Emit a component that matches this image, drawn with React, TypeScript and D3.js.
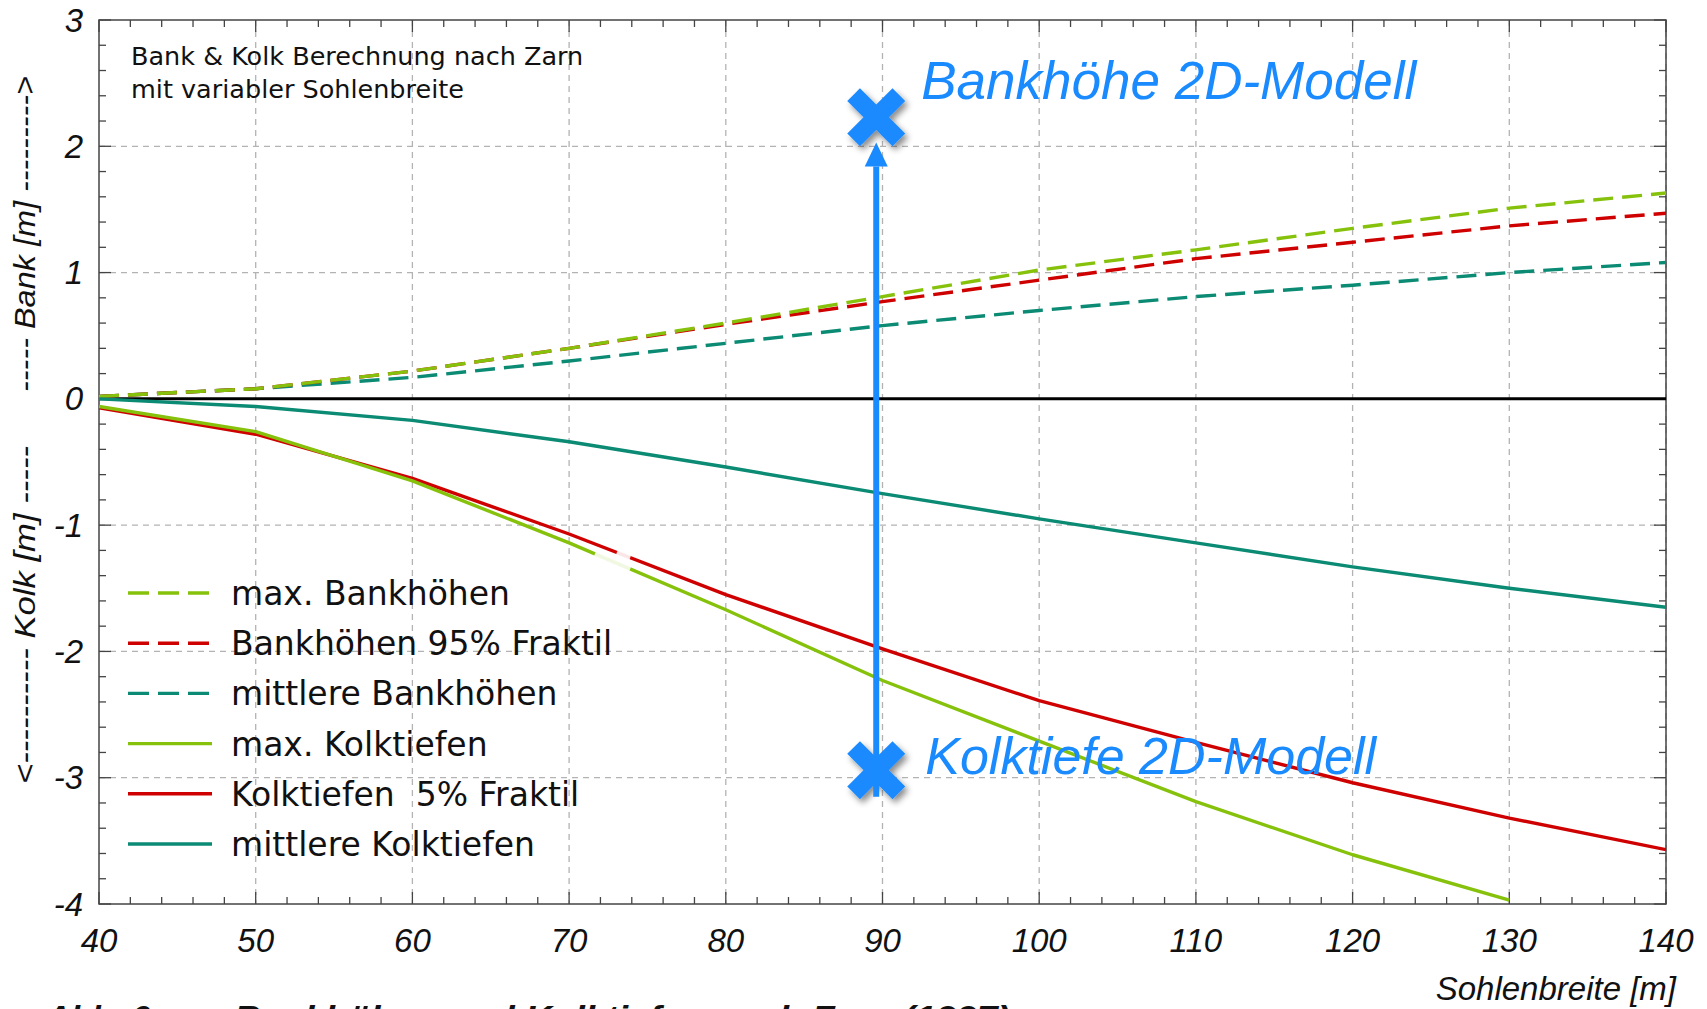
import React from "react";
import * as d3 from "d3";

// Sohlenbreite [m]
const sohlenbreite = [40, 50, 60, 70, 80, 90, 100, 110, 120, 130, 140];

// Bankhöhen [m] (positive)
const maxBankhoehen = [0.02, 0.08, 0.22, 0.4, 0.6, 0.81, 1.02, 1.18, 1.35, 1.51, 1.63];
const bankhoehen95 = [0.02, 0.08, 0.22, 0.4, 0.59, 0.77, 0.94, 1.11, 1.24, 1.37, 1.47];
const mittlereBankhoehen = [0.02, 0.08, 0.17, 0.3, 0.44, 0.58, 0.7, 0.81, 0.9, 1.0, 1.08];

// Kolktiefen [m] (negative); max. Kolktiefen ends at 130 m
const maxKolktiefen = [-0.06, -0.26, -0.65, -1.14, -1.67, -2.23, -2.71, -3.19, -3.61, -3.97];
const kolktiefen5 = [-0.07, -0.28, -0.63, -1.07, -1.55, -1.98, -2.39, -2.72, -3.04, -3.32, -3.57];
const mittlereKolktiefen = [0, -0.06, -0.17, -0.34, -0.54, -0.75, -0.95, -1.14, -1.33, -1.5, -1.65];

// 2D-Modell results
const modelX = 89.6;
const bankhoehe2D = 2.23;
const kolktiefe2D = -2.94;

const xTicks = [40, 50, 60, 70, 80, 90, 100, 110, 120, 130, 140];
const yTicks = [-4, -3, -2, -1, 0, 1, 2, 3];

const GREEN = "#86c20c";
const RED = "#cf0000";
const TEAL = "#0b8a74";
const BLUE = "#1a8aff";

const W = 1707;
const H = 1009;
const LEFT = 99;
const RIGHT = 1666;
const TOP = 20;
const BOTTOM = 904;

const x = d3.scaleLinear().domain([40, 140]).range([LEFT, RIGHT]);
const y = d3.scaleLinear().domain([-4, 3]).range([BOTTOM, TOP]);

type Series = { label: string; color: string; dashed: boolean; values: number[] };

const series: Series[] = [
  { label: "max. Bankhöhen", color: GREEN, dashed: true, values: maxBankhoehen },
  { label: "Bankhöhen 95% Fraktil", color: RED, dashed: true, values: bankhoehen95 },
  { label: "mittlere Bankhöhen", color: TEAL, dashed: true, values: mittlereBankhoehen },
  { label: "max. Kolktiefen", color: GREEN, dashed: false, values: maxKolktiefen },
  { label: "Kolktiefen  5% Fraktil", color: RED, dashed: false, values: kolktiefen5 },
  { label: "mittlere Kolktiefen", color: TEAL, dashed: false, values: mittlereKolktiefen },
];

const line = d3
  .line<[number, number]>()
  .x((d) => x(d[0]))
  .y((d) => y(d[1]));

const pts = (vals: number[]): [number, number][] => vals.map((v, i) => [sohlenbreite[i], v]);

// value of a series at an arbitrary width (for the faded stretch on the Kolk curves)
const at = (vals: number[], xv: number) => {
  const xs = sohlenbreite.slice(0, vals.length);
  const i = Math.min(Math.max(d3.bisectRight(xs, xv) - 1, 0), xs.length - 2);
  const t = (xv - xs[i]) / (xs[i + 1] - xs[i]);
  return vals[i] + t * (vals[i + 1] - vals[i]);
};
const segment = (vals: number[], a: number, b: number) =>
  line([
    [a, at(vals, a)],
    [b, at(vals, b)],
  ]) || "";

function Cross({ cx, cy }: { cx: number; cy: number }) {
  return (
    <g transform={`translate(${cx},${cy})`} filter="url(#shadow)" fill={BLUE}>
      <rect x={-32} y={-9} width={64} height={18} transform="rotate(45)" />
      <rect x={-32} y={-9} width={64} height={18} transform="rotate(-45)" />
    </g>
  );
}

export default function App() {
  const minorX = d3.range(40, 140.001, 2);
  const minorY = d3.range(-4, 3.001, 0.2);
  const legendY0 = 593;
  const legendStep = 50.2;
  const font = "'Liberation Sans', Arial, Helvetica, sans-serif";
  const wideFont = "'DejaVu Sans', Verdana, sans-serif";
  const ax = x(modelX);

  return (
    <div style={{ position: "fixed", left: 0, top: 0, width: W, height: H, overflow: "hidden", background: "#fff" }}>
      <svg width={W} height={H} viewBox={`0 0 ${W} ${H}`} style={{ display: "block" }}>
        <defs>
          <filter id="shadow" x="-60%" y="-60%" width="220%" height="220%">
            <feDropShadow dx="3" dy="4" stdDeviation="3" floodColor="#000" floodOpacity="0.45" />
          </filter>
          <clipPath id="plot">
            <rect x={LEFT} y={TOP} width={RIGHT - LEFT} height={BOTTOM - TOP} />
          </clipPath>
        </defs>

        {/* grid */}
        <g stroke="#b3b3b3" strokeWidth={1.3} strokeDasharray="6,5">
          {xTicks.slice(1).map((t) => (
            <line key={"gx" + t} x1={x(t)} x2={x(t)} y1={TOP} y2={BOTTOM} />
          ))}
          {yTicks.slice(1, -1).map((t) => (
            <line key={"gy" + t} x1={LEFT} x2={RIGHT} y1={y(t)} y2={y(t)} />
          ))}
        </g>

        {/* frame ticks */}
        <g stroke="#444" strokeWidth={1.3}>
          {minorX.map((t) => {
            const major = Math.abs(t % 10) < 1e-6;
            const len = major ? 12 : 7;
            return (
              <g key={"tx" + t}>
                <line x1={x(t)} x2={x(t)} y1={TOP} y2={TOP + len} />
                <line x1={x(t)} x2={x(t)} y1={BOTTOM} y2={BOTTOM - len} />
              </g>
            );
          })}
          {minorY.map((t) => {
            const major = Math.abs(t - Math.round(t)) < 1e-6;
            const len = major ? 12 : 7;
            return (
              <g key={"ty" + t.toFixed(1)}>
                <line x1={LEFT} x2={LEFT + len} y1={y(t)} y2={y(t)} />
                <line x1={RIGHT} x2={RIGHT - len} y1={y(t)} y2={y(t)} />
              </g>
            );
          })}
        </g>
        <rect x={LEFT} y={TOP} width={RIGHT - LEFT} height={BOTTOM - TOP} fill="none" stroke="#444" strokeWidth={1.5} />

        {/* zero line */}
        <line x1={LEFT} x2={RIGHT} y1={y(0)} y2={y(0)} stroke="#000" strokeWidth={3} />

        {/* curves */}
        <g clipPath="url(#plot)" fill="none" strokeWidth={3.4} strokeLinejoin="round">
          {[2, 1, 0, 5, 4, 3].map((i) => {
            const s = series[i];
            return (
              <path
                key={s.label}
                d={line(pts(s.values)) || ""}
                stroke={s.color}
                strokeDasharray={s.dashed ? "20,9" : undefined}
              />
            );
          })}
          {/* faded stretch on the Kolk curves */}
          <path d={segment(maxKolktiefen, 71.65, 73.9)} stroke="#fff" strokeOpacity={0.88} strokeWidth={4.5} />
          <path d={segment(kolktiefen5, 73.05, 73.9)} stroke="#fff" strokeOpacity={0.9} strokeWidth={4.5} />
        </g>

        {/* 2D-Modell markers and arrow */}
        <Cross cx={ax} cy={y(kolktiefe2D)} />
        <Cross cx={ax} cy={y(bankhoehe2D)} />
        <line x1={ax} x2={ax} y1={y(-3.15)} y2={y(1.84)} stroke={BLUE} strokeWidth={6} />
        <polygon
          points={`${ax},${y(2.03)} ${ax - 11.5},${y(1.84)} ${ax + 11.5},${y(1.84)}`}
          fill={BLUE}
        />
        <text x={ax + 45} y={99} fontFamily={font} fontStyle="italic" fontSize={53} fill={BLUE}>
          Bankhöhe 2D-Modell
        </text>
        <text x={ax + 49} y={774} fontFamily={font} fontStyle="italic" fontSize={52} fill={BLUE}>
          Kolktiefe 2D-Modell
        </text>

        {/* note */}
        <g fontFamily={wideFont} fontSize={25.5} fill="#111">
          <text x={131} y={65}>Bank &amp; Kolk Berechnung nach Zarn</text>
          <text x={131} y={98}>mit variabler Sohlenbreite</text>
        </g>

        {/* legend */}
        <g fontFamily={wideFont} fontSize={33} fill="#111">
          {series.map((s, i) => {
            const cy = legendY0 + i * legendStep;
            return (
              <g key={"lg" + s.label}>
                <line
                  x1={128}
                  x2={212}
                  y1={cy}
                  y2={cy}
                  stroke={s.color}
                  strokeWidth={3.4}
                  strokeDasharray={s.dashed ? "21,9" : undefined}
                />
                <text x={231} y={cy + 12} style={{ whiteSpace: "pre" }}>
                  {s.label}
                </text>
              </g>
            );
          })}
        </g>

        {/* axis labels */}
        <g fontFamily={font} fontStyle="italic" fontSize={33} fill="#111">
          {yTicks.map((t) => (
            <text key={"yl" + t} x={83} y={y(t)} textAnchor="end" dominantBaseline="central">
              {t}
            </text>
          ))}
          {xTicks.map((t) => (
            <text key={"xl" + t} x={x(t)} y={940} textAnchor="middle" dominantBaseline="central">
              {t}
            </text>
          ))}
          <text x={1676} y={1000} textAnchor="end" fontSize={33}>
            Sohlenbreite [m]
          </text>
          <text
            transform={`translate(35,234) rotate(-90)`}
            textAnchor="middle"
            fontSize={30}
            textLength={316}
            lengthAdjust="spacingAndGlyphs"
          >
            ----- Bank [m] ---------&gt;
          </text>
          <text
            transform={`translate(35,615) rotate(-90)`}
            textAnchor="middle"
            fontSize={30}
            textLength={338}
            lengthAdjust="spacingAndGlyphs"
          >
            &lt;---------- Kolk [m] -----
          </text>
        </g>

        {/* caption, running past the lower edge */}
        <g fontFamily={font} fontStyle="italic" fontWeight="bold" fontSize={34} fill="#111">
          <text x={46} y={1029}>Abb. 6</text>
          <text x={234} y={1029} textLength={776} lengthAdjust="spacingAndGlyphs">
            Bankhöhen und Kolktiefen nach Zarn (1997)
          </text>
        </g>
      </svg>
    </div>
  );
}
